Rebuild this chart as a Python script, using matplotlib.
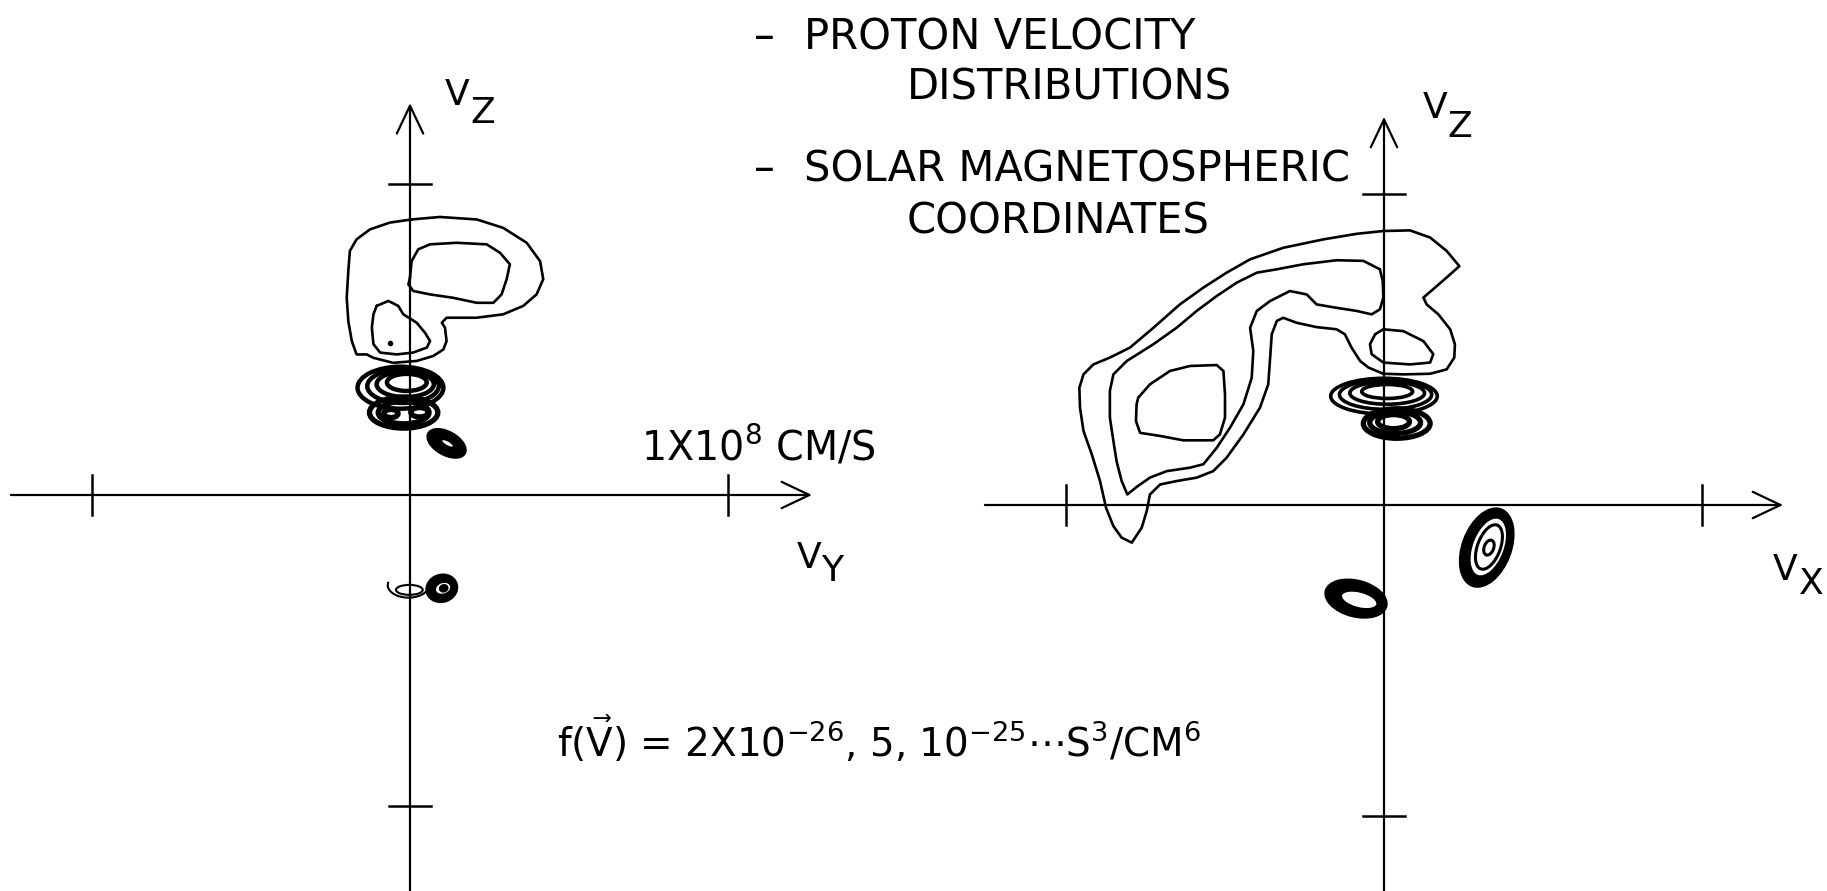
import matplotlib
matplotlib.use('Agg')
import matplotlib.pyplot as plt
from matplotlib.patches import Ellipse, Arc

plt.rcParams['font.family'] = ['DejaVu Sans']
plt.rcParams['mathtext.fontset'] = 'dejavusans'

# Velocities in units of 1e8 cm/s.
# Left panel: (V_Y, V_Z) ; right panel: (V_X, V_Z)

# left panel contour lines
left_outer = [(0.005, 0.886), (0.094, 0.894), (0.210, 0.886), (0.293, 0.859), (0.367, 0.811),
              (0.409, 0.752), (0.419, 0.694), (0.398, 0.645), (0.356, 0.608), (0.293, 0.581),
              (0.210, 0.570), (0.115, 0.570), (0.100, 0.554), (0.110, 0.538), (0.115, 0.495),
              (0.105, 0.468), (0.073, 0.447), (0.021, 0.431), (-0.053, 0.425), (-0.115, 0.441),
              (-0.136, 0.452), (-0.168, 0.452), (-0.183, 0.495), (-0.194, 0.559), (-0.199, 0.634),
              (-0.194, 0.720), (-0.189, 0.785), (-0.168, 0.822), (-0.126, 0.854), (-0.063, 0.876)]
left_inner_a = [(0.000, 0.699), (0.005, 0.752), (0.026, 0.790), (0.063, 0.806), (0.147, 0.811),
                (0.241, 0.806), (0.283, 0.779), (0.314, 0.742), (0.304, 0.694), (0.288, 0.645),
                (0.262, 0.618), (0.210, 0.618), (0.136, 0.634), (0.063, 0.645), (0.010, 0.656),
                (-0.005, 0.677)]
left_inner_b = [(-0.105, 0.608), (-0.068, 0.624), (-0.037, 0.608), (-0.021, 0.581), (0.021, 0.554),
                (0.047, 0.522), (0.063, 0.495), (0.053, 0.474), (0.010, 0.458), (-0.042, 0.452),
                (-0.094, 0.458), (-0.115, 0.485), (-0.120, 0.538), (-0.115, 0.581)]
left_peak = (-0.063, 0.490)

# nested contours of the dense core: (centre y, centre z, width, height)
left_core_upper = [(-0.030, 0.345, 0.270, 0.135), (-0.022, 0.350, 0.225, 0.108),
                   (-0.015, 0.356, 0.180, 0.082), (-0.010, 0.362, 0.125, 0.055)]
left_core_lower = [(-0.020, 0.265, 0.215, 0.100), (-0.020, 0.265, 0.160, 0.072),
                   (-0.060, 0.262, 0.045, 0.026), (0.030, 0.266, 0.055, 0.030)]

# small closed blobs, solid/open layers: (centre, width, height, angle)
left_blob_a = [(0.115, 0.166, 0.130, 0.072, -30), (0.118, 0.166, 0.048, 0.020, -30)]
left_blob_b = [(0.100, -0.300, 0.096, 0.085, 20), (0.104, -0.300, 0.055, 0.042, 20),
               (0.106, -0.300, 0.022, 0.018, 20)]
left_eye = [(-0.002, -0.305, 0.084, 0.032, 0)]
left_eye_arc = (-0.005, -0.290, 0.130, 0.080)

# right panel contour lines
right_outer = [(-0.002, 0.881), (0.082, 0.883), (0.145, 0.860), (0.197, 0.817), (0.237, 0.768),
               (0.202, 0.736), (0.166, 0.704), (0.124, 0.667), (0.134, 0.645), (0.171, 0.613),
               (0.208, 0.565), (0.223, 0.517), (0.221, 0.474), (0.197, 0.436), (0.145, 0.422),
               (0.061, 0.420), (-0.002, 0.422), (-0.049, 0.442), (-0.075, 0.463), (-0.102, 0.506),
               (-0.123, 0.549), (-0.149, 0.565), (-0.212, 0.572), (-0.275, 0.586), (-0.317, 0.602),
               (-0.337, 0.592), (-0.353, 0.549), (-0.358, 0.474), (-0.364, 0.388), (-0.390, 0.313),
               (-0.442, 0.227), (-0.495, 0.152), (-0.537, 0.109), (-0.589, 0.088), (-0.652, 0.077),
               (-0.704, 0.066), (-0.736, 0.034), (-0.746, -0.019), (-0.762, -0.073), (-0.793, -0.121),
               (-0.825, -0.105), (-0.851, -0.068), (-0.874, -0.009), (-0.893, 0.077), (-0.919, 0.163),
               (-0.945, 0.238), (-0.956, 0.313), (-0.958, 0.377), (-0.945, 0.420), (-0.914, 0.452),
               (-0.862, 0.474), (-0.799, 0.506), (-0.725, 0.570), (-0.642, 0.645), (-0.568, 0.699),
               (-0.495, 0.747), (-0.421, 0.790), (-0.317, 0.827), (-0.191, 0.854), (-0.086, 0.872)]
right_middle = [(-0.013, 0.758), (-0.065, 0.785), (-0.149, 0.787), (-0.254, 0.774), (-0.337, 0.758),
                (-0.400, 0.747), (-0.463, 0.715), (-0.526, 0.672), (-0.589, 0.624), (-0.652, 0.570),
                (-0.725, 0.517), (-0.809, 0.463), (-0.851, 0.420), (-0.862, 0.367), (-0.862, 0.281),
                (-0.851, 0.206), (-0.841, 0.141), (-0.825, 0.077), (-0.807, 0.034), (-0.778, 0.058),
                (-0.736, 0.088), (-0.683, 0.109), (-0.610, 0.120), (-0.568, 0.131), (-0.526, 0.184),
                (-0.484, 0.249), (-0.442, 0.324), (-0.416, 0.409), (-0.411, 0.495), (-0.421, 0.570),
                (-0.400, 0.624), (-0.358, 0.656), (-0.296, 0.688), (-0.243, 0.677), (-0.212, 0.645),
                (-0.149, 0.634), (-0.086, 0.624), (-0.039, 0.613), (-0.013, 0.629), (-0.002, 0.667),
                (-0.004, 0.720)]
right_inner_a = [(-0.773, 0.345), (-0.736, 0.388), (-0.673, 0.431), (-0.610, 0.447), (-0.526, 0.450),
                 (-0.505, 0.431), (-0.500, 0.356), (-0.500, 0.281), (-0.516, 0.227), (-0.537, 0.208),
                 (-0.631, 0.208), (-0.704, 0.222), (-0.767, 0.232), (-0.780, 0.270), (-0.778, 0.324)]
right_inner_b = [(-0.028, 0.549), (-0.002, 0.565), (0.061, 0.559), (0.124, 0.527), (0.155, 0.485),
                 (0.145, 0.458), (0.082, 0.452), (-0.002, 0.458), (-0.039, 0.485), (-0.044, 0.517)]

right_core_upper = [(0.000, 0.350, 0.335, 0.115), (0.005, 0.355, 0.290, 0.095),
                    (0.010, 0.360, 0.235, 0.072), (0.010, 0.365, 0.160, 0.045)]
right_core_lower = [(0.040, 0.262, 0.210, 0.095), (0.035, 0.265, 0.160, 0.070),
                    (0.030, 0.268, 0.100, 0.045)]

right_blob_a = [(0.323, -0.137, 0.260, 0.150, 70), (0.328, -0.135, 0.200, 0.105, 70)]
right_blob_a_rings = [(0.330, -0.135, 0.150, 0.072, 70), (0.330, -0.137, 0.050, 0.030, 70)]
right_blob_b = [(-0.088, -0.301, 0.195, 0.113, -15), (-0.078, -0.305, 0.120, 0.055, -15)]

W, H = 1827, 891          # canvas in pixels at dpi 100
SX, SZ = 318.0, 311.0     # pixels per 1e8 cm/s (horizontal, vertical)
INK = 'black'
LW = 1.9

fig = plt.figure(figsize=(W / 100, H / 100), dpi=100)


def panel(ox, oz):
    ax = fig.add_axes([0, 0, 1, 1])
    ax.set_xlim(-ox / SX, (W - ox) / SX)
    ax.set_ylim(-(H - oz) / SZ, oz / SZ)
    ax.axis('off')
    return ax


def draw_axes(ax, x0, x1, z0, z1):
    arrow = dict(arrowstyle='->,head_length=0.8,head_width=0.38', lw=1.6, color=INK,
                 shrinkA=0, shrinkB=0, mutation_scale=25)
    ax.annotate('', xy=(x1, 0), xytext=(x0, 0), arrowprops=arrow)
    ax.annotate('', xy=(0, z1), xytext=(0, z0), arrowprops=arrow)
    for t in (-1, 1):
        ax.plot([t, t], [-0.065, 0.065], color=INK, lw=1.8)
        ax.plot([-0.065, 0.065], [t, t], color=INK, lw=1.8)


def contour(ax, pts, lw=LW):
    xs = [p[0] for p in pts] + [pts[0][0]]
    zs = [p[1] for p in pts] + [pts[0][1]]
    ax.plot(xs, zs, color=INK, lw=lw, solid_joinstyle='round', solid_capstyle='round')


def rings(ax, spec, lw, angle=0):
    for cx, cz, w, h, *a in spec:
        ax.add_patch(Ellipse((cx, cz), w, h, angle=a[0] if a else angle,
                             fill=False, ec=INK, lw=lw))


def blob(ax, spec):
    # alternating solid / open layers of a tight contour nest
    for i, (cx, cz, w, h, a) in enumerate(spec):
        fc = INK if i % 2 == 0 else 'white'
        ax.add_patch(Ellipse((cx, cz), w, h, angle=a, fc=fc, ec=INK, lw=2.0))


# ---- left panel: V_Y / V_Z
axL = panel(410, 495)
draw_axes(axL, -1.255, 1.264, -1.30, 1.26)
contour(axL, left_outer)
contour(axL, left_inner_a)
contour(axL, left_inner_b)
axL.plot(*left_peak, 'o', color=INK, ms=3)
rings(axL, left_core_upper, 3.2)
rings(axL, left_core_lower, 3.8)
blob(axL, left_blob_a)
blob(axL, left_blob_b)
for cx, cz, w, h, a in left_eye:
    axL.add_patch(Ellipse((cx, cz), w, h, angle=a, fill=False, ec=INK, lw=1.5))
ex, ez, ew, eh = left_eye_arc
axL.add_patch(Arc((ex, ez), ew, eh, theta1=170, theta2=360, ec=INK, lw=1.5))

# ---- right panel: V_X / V_Z
axR = panel(1384, 505)
draw_axes(axR, -1.255, 1.255, -1.30, 1.248)
contour(axR, right_outer)
contour(axR, right_middle)
contour(axR, right_inner_a)
contour(axR, right_inner_b)
rings(axR, right_core_upper, 2.6)
rings(axR, right_core_lower, 3.8)
blob(axR, right_blob_a)
rings(axR, right_blob_a_rings, 2.2)
blob(axR, right_blob_b)


# ---- lettering (pixel positions on the canvas)
def put(x, y, s, size=28, **kw):
    fig.text(x / W, 1 - y / H, s, fontsize=size, color=INK, ha='left', va='baseline', **kw)


put(754, 49, '–', size=30)
put(804, 49, 'PROTON VELOCITY', size=30)
put(907, 100, 'DISTRIBUTIONS', size=30)
put(754, 181, '–', size=30)
put(804, 181, 'SOLAR MAGNETOSPHERIC', size=30)
put(907, 233, 'COORDINATES', size=30)

put(641, 460, r'1X10$^{8}$ CM/S', size=28.5)

put(445, 105, 'V', size=26)
put(470, 123, 'Z', size=26)
put(1423, 118, 'V', size=26)
put(1447, 137, 'Z', size=26)
put(797, 568, 'V', size=26)
put(821, 581, 'Y', size=26)
put(1773, 580, 'V', size=26)
put(1799, 594, 'X', size=26)

put(557, 757, r'f($\vec{\mathregular{V}}$) = 2X10$^{-26}$, 5, 10$^{-25}$$\cdots$S$^{3}$/CM$^{6}$',
    size=28)

fig.savefig('out.png', dpi=100, facecolor='white')
